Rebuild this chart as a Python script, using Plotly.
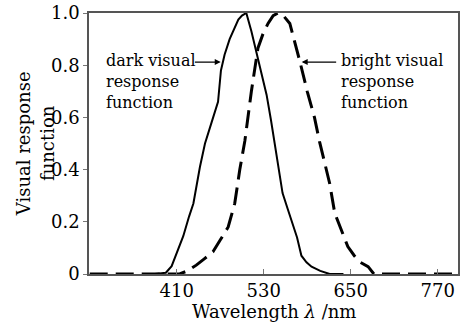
import plotly.graph_objects as go

# Dark (scotopic) visual response function
dark_wl = [380, 395, 403, 411, 419, 427, 433, 442, 449, 458, 467, 471, 476, 483, 490, 495, 500, 506,
           513, 520, 527, 534, 540, 545, 550, 556, 563, 570, 576, 582, 589, 596, 608, 621, 640]
dark_v = [0.0, 0.005, 0.03, 0.09, 0.145, 0.22, 0.27, 0.41, 0.50, 0.58, 0.66, 0.78, 0.84, 0.90, 0.945, 0.975, 0.99, 1.0,
          0.93, 0.85, 0.77, 0.686, 0.59, 0.50, 0.41, 0.31, 0.25, 0.194, 0.14, 0.07, 0.045, 0.028, 0.012, 0.0, 0.0]

# Bright (photopic) visual response function
bright_wl = [290, 405, 414, 425, 437, 448, 460, 470, 481, 490, 497, 504, 513, 522, 529, 536, 543, 550,
             557, 566, 573, 580, 590, 600, 607, 614, 621, 628, 637, 646, 655, 662, 674, 682, 798]
bright_v = [0.0, 0.0, 0.0, 0.012, 0.034, 0.058, 0.085, 0.13, 0.18, 0.27, 0.40, 0.51, 0.70, 0.865, 0.92, 0.96, 0.99, 1.0,
            0.99, 0.96, 0.89, 0.813, 0.70, 0.60, 0.507, 0.43, 0.347, 0.233, 0.17, 0.105, 0.07, 0.047, 0.028, 0.0, 0.0]

x_ticks = [410, 530, 650, 770]
y_ticks = [0, 0.2, 0.4, 0.6, 0.8, 1.0]
y_labels = ["0", "0.2", "0.4", "0.6", "0.8", "1.0"]

FONT = "DejaVu Serif"

fig = go.Figure()
fig.add_trace(go.Scatter(x=dark_wl, y=dark_v, mode="lines",
                         line=dict(color="black", width=2), showlegend=False))
fig.add_trace(go.Scatter(x=bright_wl, y=bright_v, mode="lines",
                         line=dict(color="black", width=3, dash="18px,8px"), showlegend=False))

fig.add_annotation(x=470.7, y=0.812, ax=433, ay=0.812, axref="x", ayref="y", xref="x", yref="y",
                   text="", showarrow=True, arrowhead=2, arrowsize=1, arrowwidth=1.2, arrowcolor="black")
fig.add_annotation(x=582.4, y=0.812, ax=632, ay=0.812, axref="x", ayref="y", xref="x", yref="y",
                   text="", showarrow=True, arrowhead=2, arrowsize=1, arrowwidth=1.2, arrowcolor="black")
fig.add_annotation(x=309, y=0.736, xref="x", yref="y", xanchor="left", yanchor="middle", align="left",
                   text="dark visual<br>response<br>function", showarrow=False,
                   font=dict(family=FONT, size=16, color="black"))
fig.add_annotation(x=634, y=0.736, xref="x", yref="y", xanchor="left", yanchor="middle", align="left",
                   text="bright visual<br>response<br>function", showarrow=False,
                   font=dict(family=FONT, size=16, color="black"))
# Axis titles
fig.add_annotation(x=-0.147, y=0.5, xref="paper", yref="paper", xanchor="center", yanchor="middle",
                   textangle=-90, text="Visual response<br>function", showarrow=False,
                   font=dict(family=FONT, size=18, color="black"))
fig.add_annotation(x=0.5, y=-0.145, xref="paper", yref="paper", xanchor="center", yanchor="middle",
                   text="Wavelength <i>λ</i> /nm", showarrow=False,
                   font=dict(family=FONT, size=18, color="black"))

fig.update_layout(
    width=467, height=324,
    margin=dict(l=89, r=9, t=13, b=50, autoexpand=False),
    paper_bgcolor="white", plot_bgcolor="white",
    font=dict(family=FONT, size=18, color="black"),
)
fig.update_xaxes(range=[289, 798], tickvals=x_ticks, ticks="inside", ticklen=5, tickcolor="#777",
                 showline=True, linecolor="#555", linewidth=1.5, mirror=True, showgrid=False, zeroline=False,
                 automargin=False, tickfont=dict(size=18))
fig.update_yaxes(range=[0, 1.0], tickvals=y_ticks, ticktext=y_labels, ticks="outside", ticklen=4, tickcolor="#777",
                 showline=True, linecolor="#555", linewidth=1.5, mirror=True, showgrid=False, zeroline=False,
                 automargin=False, tickfont=dict(size=18))

fig.write_html("out.html")
